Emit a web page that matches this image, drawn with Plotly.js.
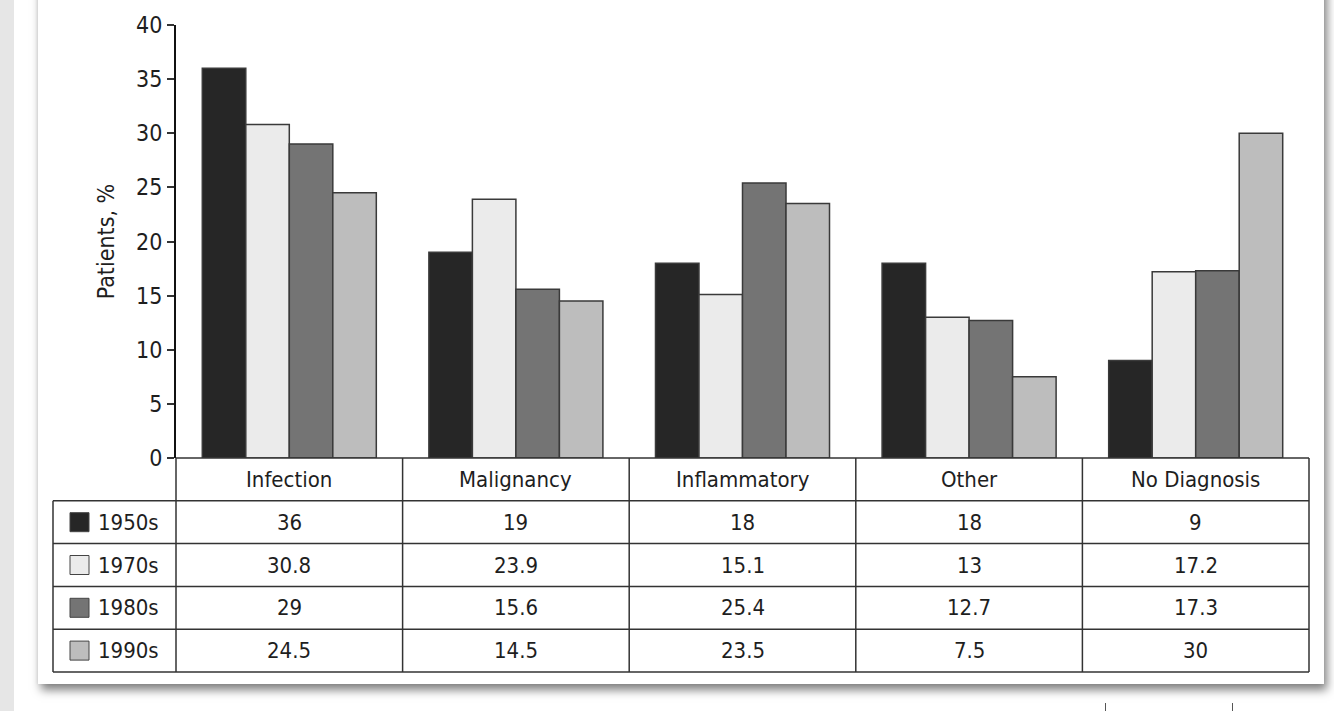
<!DOCTYPE html>
<html>
<head>
<meta charset="utf-8">
<script src="https://cdn.plot.ly/plotly-3.0.1.min.js"></script>
<style>
  html, body { margin:0; padding:0; width:1334px; height:711px; overflow:hidden; background:#ffffff; }
  #strip { position:absolute; left:0; top:0; width:14px; height:711px; background:#e6e6e6; }
  #card { position:absolute; left:38px; top:-20px; width:1286px; height:704px; background:#ffffff;
          box-shadow: 3px 6px 9px rgba(0,0,0,0.5), -1px 0 3px rgba(0,0,0,0.06); }
  .mark { position:absolute; top:703px; width:1px; height:8px; background:#555; }
  #chart { position:absolute; left:0; top:0; width:1334px; height:711px; }
</style>
</head>
<body>
<div id="strip"></div>
<div id="card"></div>
<div class="mark" style="left:1105px"></div>
<div class="mark" style="left:1232px"></div>
<div id="chart"></div>
<script>
// ---- data ----
var categories = ["Infection", "Malignancy", "Inflammatory", "Other", "No Diagnosis"];
var seriesNames = ["1950s", "1970s", "1980s", "1990s"];
var values1950s = [36, 19, 18, 18, 9];
var values1970s = [30.8, 23.9, 15.1, 13, 17.2];
var values1980s = [29, 15.6, 25.4, 12.7, 17.3];
var values1990s = [24.5, 14.5, 23.5, 7.5, 30];
var yTickValues = [0, 5, 10, 15, 20, 25, 30, 35, 40];

// ---- styles ----
var seriesValues = [values1950s, values1970s, values1980s, values1990s];
var colors = ["#262626", "#ebebeb", "#747474", "#bdbdbd"];
var FONT = "'DejaVu Sans Condensed', 'Liberation Sans Narrow', 'Liberation Sans', sans-serif";
var lineCol = "#333333";
var TXT = "#1e1e1e";

var traces = seriesNames.map(function (name, i) {
  return {
    type: "bar",
    name: name,
    x: categories,
    y: seriesValues[i],
    marker: { color: colors[i], line: { color: "#3a3a3a", width: 1.5 } },
    hoverinfo: "x+y+name",
    showlegend: false
  };
});

// table geometry (paper units; plot area height 433px)
var rowH = 42.8 / 433;
var nRows = seriesNames.length;
var nCols = categories.length;
var tableLeft = -123 / 1133;     // left edge of legend column
var swL = -106 / 1133, swR = -87 / 1133, labelX = -80 / 1133;

var shapes = [];
function hline(x0, x1, y) {
  shapes.push({ type: "line", xref: "paper", yref: "paper", x0: x0, x1: x1, y0: y, y1: y,
                line: { color: lineCol, width: 1.5 } });
}
function vline(x, y0, y1) {
  shapes.push({ type: "line", xref: "paper", yref: "paper", x0: x, x1: x, y0: y0, y1: y1,
                line: { color: lineCol, width: 1.5 } });
}
hline(0, 1, 0);
for (var r = 1; r <= nRows + 1; r++) hline(tableLeft, 1, -r * rowH);
for (var c = 0; c <= nCols; c++) vline(c / nCols, 0, -(nRows + 1) * rowH);
vline(tableLeft, -rowH, -(nRows + 1) * rowH);

var annotations = [];
categories.forEach(function (cat) {
  annotations.push({ xref: "x", yref: "paper", x: cat, y: -0.5 * rowH, text: cat, showarrow: false,
                     xanchor: "center", yanchor: "middle", font: { family: FONT, size: 22, color: TXT } });
});
seriesNames.forEach(function (name, i) {
  var yc = -(i + 1.5) * rowH;
  shapes.push({ type: "rect", xref: "paper", yref: "paper", x0: swL, x1: swR,
                y0: yc - 9.5 / 433, y1: yc + 9.5 / 433,
                fillcolor: colors[i], line: { color: "#444", width: 1 } });
  annotations.push({ xref: "paper", yref: "paper", x: labelX, y: yc, text: name, showarrow: false,
                     xanchor: "left", yanchor: "middle", font: { family: FONT, size: 22, color: TXT } });
  categories.forEach(function (cat, j) {
    annotations.push({ xref: "x", yref: "paper", x: cat, y: yc, text: String(seriesValues[i][j]),
                       showarrow: false, xanchor: "center", yanchor: "middle",
                       font: { family: FONT, size: 22, color: TXT } });
  });
});

var layout = {
  width: 1334, height: 711,
  margin: { l: 176, r: 25, t: 25, b: 253 },
  paper_bgcolor: "rgba(0,0,0,0)",
  plot_bgcolor: "rgba(0,0,0,0)",
  barmode: "group",
  bargap: 0.232,
  bargroupgap: 0,
  font: { family: FONT, size: 22, color: TXT },
  xaxis: { type: "category", range: [-0.5, 4.5], showticklabels: false, ticks: "",
           showline: false, showgrid: false, zeroline: false, fixedrange: true },
  yaxis: { range: [0, 40], tickvals: yTickValues, ticks: "outside", ticklen: 7, tickwidth: 1.5,
           tickcolor: "#333", showline: true, linecolor: "#111", linewidth: 2,
           showgrid: false, zeroline: false, fixedrange: true,
           tickfont: { family: FONT, size: 23, color: TXT },
           automargin: true,
           title: { text: "Patients, %", font: { family: FONT, size: 23, color: TXT }, standoff: 15 } },
  shapes: shapes,
  annotations: annotations
};

Plotly.newPlot("chart", traces, layout, { displayModeBar: false, staticPlot: false });
</script>
</body>
</html>
